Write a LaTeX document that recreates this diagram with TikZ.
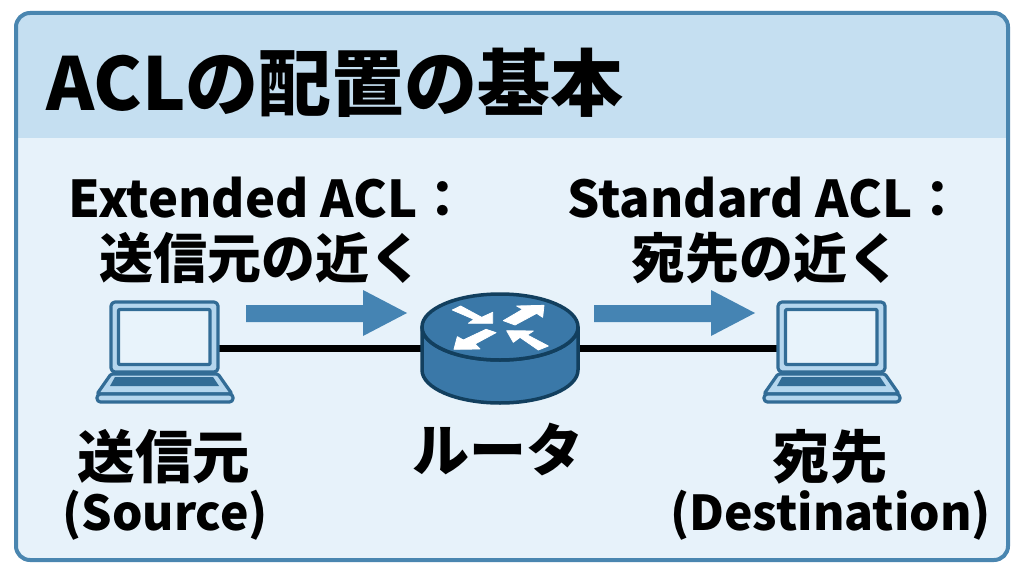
\documentclass[tikz,border=0pt]{standalone}
\usepackage{fontspec}
\setmainfont{Noto Sans CJK JP}
\definecolor{edgeblue}{HTML}{4A86B0}
\definecolor{headfill}{HTML}{C5DFF1}
\definecolor{bodyfill}{HTML}{E7F2FA}
\definecolor{arrowblue}{HTML}{4584B3}
\definecolor{routerblue}{HTML}{3A78A8}
\definecolor{routerdark}{HTML}{123F5E}
\definecolor{lapline}{HTML}{326C96}
\definecolor{lapfill}{HTML}{B5D6EE}
\definecolor{screenfill}{HTML}{E8F3FB}
\tikzset{
  x=1pt,y=-1pt,
  txt/.style={font=\bfseries\fontsize{#1}{#1}\selectfont,text=black,inner sep=0pt,align=center},
  anchorbox/.style={inner sep=0pt,minimum width=#1,minimum height=70pt},
  link/.style={line width=7pt,black},
  flow/.style={fill=arrowblue,draw=none},
  lapstroke/.style={draw=lapline,line width=3.2pt,line join=round},
  whitearrow/.style={fill=white,draw=white,line width=0.8pt,line join=round}
}
\newcommand{\laptopicon}[1]{%
\begin{scope}[shift={(#1,0)}]
  \draw[lapstroke,fill=lapfill,rounded corners=4pt] (111,302) rectangle (218,372);
  \draw[lapstroke,fill=screenfill,rounded corners=1pt] (118.5,309.5) rectangle (210,364.5);
  \draw[lapstroke,fill=lapfill,rounded corners=1.5pt] (111,374) -- (218,374) -- (232,394) -- (97,394) -- cycle;
  \fill[lapline] (115,377) -- (213,377) -- (219,386) -- (110,386) -- cycle;
  \draw[lapstroke,fill=lapfill,rounded corners=3.5pt] (97,394) -- (233,394) -- (233,402) -- (97,402) -- cycle;
\end{scope}}
\begin{document}
\begin{tikzpicture}
\useasboundingbox (0,0) rectangle (1024,572);
\fill[white] (0,0) rectangle (1024,572);
% panel
\fill[bodyfill,rounded corners=14pt] (16,13) rectangle (1008,560);
\begin{scope}
  \clip[rounded corners=14pt] (16,13) rectangle (1008,560);
  \fill[headfill] (16,13) rectangle (1008,138);
\end{scope}
\draw[edgeblue,line width=4pt,rounded corners=14pt] (16,13) rectangle (1008,560);
% title and labels
\node[txt=73,anchor=west] (title) at (46,83) {ACLの配置の基本};
\node[txt=50.7] (extlabel) at (268.5,198) {Extended ACL：};
\node[txt=54] (extsub) at (261,258) {送信元の近く};
\node[txt=50.7] (stdlabel) at (765.5,198) {Standard ACL：};
\node[txt=54] (stdsub) at (766,258) {宛先の近く};
\node[txt=57.5] (srcja) at (164,457) {送信元};
\node[txt=48] (srcen) at (165,515) {(Source)};
\node[txt=57] (routerja) at (498,449) {ルータ};
\node[txt=57.5] (dstja) at (830,457) {宛先};
\node[txt=48] (dsten) at (830.5,515) {(Destination)};
% anchors for devices
\node[anchorbox=107pt] (src) at (164.5,348) {};
\node[anchorbox=156pt] (router) at (500,348) {};
\node[anchorbox=107pt] (dst) at (831.5,348) {};
\draw[link] (src.east) -- (router.west);
\draw[link] (router.east) -- (dst.west);
% flow arrows
\fill[flow] (246,305) -- (363,305) -- (363,290) -- (407,313) -- (363,336) -- (363,322) -- (246,322) -- cycle;
\fill[flow] (594,305) -- (711,305) -- (711,290) -- (755,313) -- (711,336) -- (711,322) -- (594,322) -- cycle;
% laptops
\laptopicon{0}
\laptopicon{667}
% router
\draw[fill=routerblue,draw=routerdark,line width=3.5pt,line join=round]
  (422,327) -- (422,370) arc[start angle=180,end angle=360,x radius=78,y radius=-33] -- (578,327)
  arc[start angle=0,end angle=180,x radius=78,y radius=33] -- cycle;
\draw[fill=routerblue,draw=routerdark,line width=3.5pt] (500,327) ellipse[x radius=78,y radius=33];
\begin{scope}[shift={(400,280)},x=0.3333pt,y=-0.3333pt]
  \filldraw[whitearrow] (157,90) -- (182,78) -- (245,112) -- (278,97) -- (278,130) -- (205,130) -- (222,118) -- cycle;
  \filldraw[whitearrow] (310,122) -- (368,88) -- (350,78) -- (432,76) -- (428,112) -- (410,100) -- (345,135) -- cycle;
  \filldraw[whitearrow] (258,148) -- (288,158) -- (225,192) -- (240,207) -- (162,208) -- (172,170) -- (190,180) -- cycle;
  \filldraw[whitearrow] (445,198) -- (415,210) -- (360,172) -- (340,187) -- (320,152) -- (400,153) -- (382,165) -- cycle;
\end{scope}
\end{tikzpicture}
\end{document}
